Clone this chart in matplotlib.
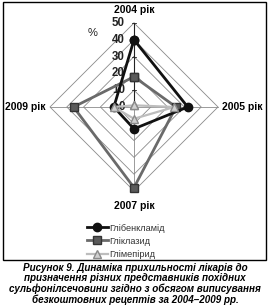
import numpy as np
import matplotlib
matplotlib.use("Agg")
import matplotlib.pyplot as plt
from matplotlib.lines import Line2D
from matplotlib.patches import Rectangle

plt.rcParams['font.family'] = ['Liberation Sans', 'DejaVu Sans']

years = ['2004 рік', '2005 рік', '2007 рік', '2009 рік']
glibenclamide = [40, 32, 13, 12]
gliclazide = [18, 25, 48, 36]
glimepiride = [1, 24, 7, 12]
ticks = [0, 10, 20, 30, 40, 50]
names = ['Глібенкламід', 'Гліклазид', 'Глімепірид']
caption = ('Рисунок 9. Динаміка прихильності лікарів до\n'
           'призначення різних представників похідних\n'
           'сульфонілсечовини згідно з обсягом виписування\n'
           'безкоштовних рецептів за 2004–2009 рр.')

W, H = 270, 306
fig = plt.figure(figsize=(W / 100, H / 100), dpi=100)
ax = fig.add_axes([0, 0, 1, 1])
s = 1.68          # px per unit
cx, cy = 134, 107  # centre in px from top-left
ax.set_xlim(-cx / s, (W - cx) / s)
ax.set_ylim(-(H - cy) / s, cy / s)
ax.axis('off')

ang = np.arange(len(years)) * 2 * np.pi / len(years)
dx, dy = np.sin(ang), np.cos(ang)

def xy(vals):
    v = np.asarray(vals, float)
    x, y = v * dx, v * dy
    return np.append(x, x[0]), np.append(y, y[0])

# grid diamonds
for r in ticks[1:]:
    gx, gy = xy([r] * 4)
    ax.plot(gx, gy, color='#8a8a8a', lw=0.6, zorder=1)
for i in range(4):
    ax.plot([0, 50 * dx[i]], [0, 50 * dy[i]],
            color='#222' if i == 0 else '#8a8a8a', lw=0.8 if i == 0 else 0.6, zorder=1)
for r in ticks:
    ax.plot([-1.2, 1.2], [r, r], color='#222', lw=0.6, zorder=1)
    ax.text(-5.5, r, str(r), ha='right', va='center', fontsize=8.3,
            fontweight='bold', color='#222', zorder=2)
ax.text(-24.5, 44, '%', ha='center', va='center', fontsize=8, color='#222')

# category labels
ax.text(0, 57.5, years[0], ha='center', va='center', fontsize=7.5, fontweight='bold')
ax.text(52.5, 0, years[1], ha='left', va='center', fontsize=7.5, fontweight='bold')
ax.text(0, -59, years[2], ha='center', va='center', fontsize=7.5, fontweight='bold')
ax.text(-52.5, 0, years[3], ha='right', va='center', fontsize=7.5, fontweight='bold')

styles = [
    dict(color='#111111', lw=2.0, marker='o', ms=6, mfc='#111111', mec='#111111', zorder=5),
    dict(color='#6a6a6a', lw=2.0, marker='s', ms=6, mfc='#5a5a5a', mec='#333333', zorder=4),
    dict(color='#bdbdbd', lw=1.6, marker='^', ms=6, mfc='#d0d0d0', mec='#8a8a8a', zorder=6),
]
for vals, st in zip([glibenclamide, gliclazide, glimepiride], styles):
    px, py = xy(vals)
    ax.plot(px, py, **st)

handles = [Line2D([], [], **{k: v for k, v in st.items() if k != 'zorder'}) for st in styles]
fig.legend(handles, names, loc='upper left', bbox_to_anchor=(82 / W, 1 - 219 / H),
           frameon=False, fontsize=6.6, handlelength=2.3, handletextpad=0.2,
           labelspacing=0.45, borderpad=0, labelcolor='#333')

fig.patches.append(Rectangle((3 / W, 1 - 260 / H), 263 / W, 258 / H, transform=fig.transFigure,
                             fill=False, ec='black', lw=1))
fig.text(135 / W, 1 - 284 / H, caption, ha='center', va='center', fontsize=7.1,
         fontweight='bold', fontstyle='italic', linespacing=1.05)

fig.savefig('out.png', dpi=100)
